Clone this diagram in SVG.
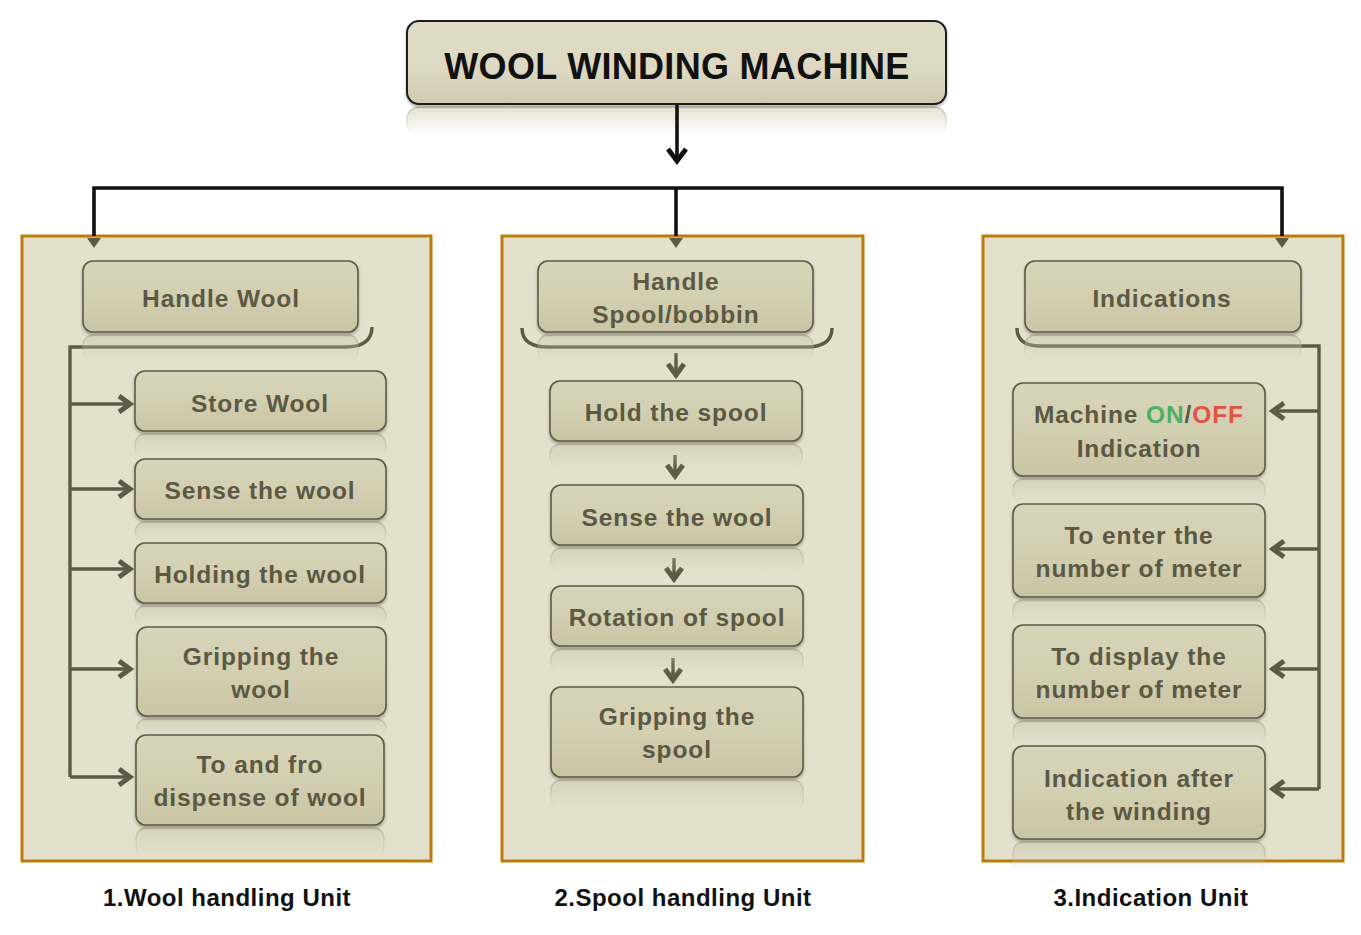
<svg xmlns="http://www.w3.org/2000/svg" width="1361" height="935" viewBox="0 0 1361 935">
<defs>
<style>
.panel{fill:#e3e0cc;stroke:#bb7c0c;stroke-width:3}
.node{fill:url(#ng);stroke:#5e5a47;stroke-width:1.6;filter:url(#sh)}
.title{fill:url(#tg);stroke:#1c1c1c;stroke-width:2;filter:url(#sh)}
.refl{fill:url(#rg);stroke:url(#rs);stroke-width:1.5}
.t{font-family:"Liberation Sans",Arial,sans-serif;font-weight:bold;font-size:24.5px;letter-spacing:0.9px;fill:#5b5843;text-anchor:middle}
.tt{font-family:"Liberation Sans",Arial,sans-serif;font-weight:bold;font-size:36px;letter-spacing:0.3px;fill:#111;text-anchor:middle}
.lab{font-family:"Liberation Sans",Arial,sans-serif;font-weight:bold;font-size:24px;letter-spacing:0.5px;fill:#111;text-anchor:middle}
.c{fill:none;stroke:#5e5a47;stroke-width:3.4}
.k{fill:none;stroke:#111;stroke-width:3.6}
</style>
<linearGradient id="ng" x1="0" y1="0" x2="0" y2="1">
<stop offset="0" stop-color="#d8d4b9"/><stop offset="0.5" stop-color="#d3cfb1"/><stop offset="1" stop-color="#c9c4a4"/>
</linearGradient>
<linearGradient id="tg" x1="0" y1="0" x2="0" y2="1">
<stop offset="0" stop-color="#e0dcc7"/><stop offset="0.6" stop-color="#dcd8c1"/><stop offset="1" stop-color="#cfcab0"/>
</linearGradient>
<linearGradient id="rg" x1="0" y1="0" x2="0" y2="1">
<stop offset="0" stop-color="#cdc9ad" stop-opacity="0.55"/><stop offset="1" stop-color="#cdc9ad" stop-opacity="0"/>
</linearGradient>
<linearGradient id="rs" x1="0" y1="0" x2="0" y2="1">
<stop offset="0" stop-color="#aaa58a" stop-opacity="0.6"/><stop offset="1" stop-color="#aaa58a" stop-opacity="0"/>
</linearGradient>
<filter id="sh" x="-5%" y="-10%" width="110%" height="130%">
<feDropShadow dx="0" dy="2" stdDeviation="1.5" flood-color="#000" flood-opacity="0.3"/>
</filter>
<marker id="ag" markerUnits="userSpaceOnUse" markerWidth="24" markerHeight="24" refX="15" refY="11" orient="auto" overflow="visible">
<path d="M4,3 L15,11 L4,19" fill="none" stroke="#5e5a47" stroke-width="5" stroke-linejoin="miter"/>
</marker>
<marker id="ak" markerUnits="userSpaceOnUse" markerWidth="26" markerHeight="26" refX="16" refY="12" orient="auto" overflow="visible">
<path d="M4,3 L16,12 L4,21" fill="none" stroke="#111" stroke-width="4.8"/>
</marker>
</defs>
<rect width="1361" height="935" fill="#ffffff"/>

<g id="title">
<rect class="refl" x="407" y="107" width="539" height="28" rx="12"/>
<rect class="title" x="407" y="21" width="539" height="83" rx="12"/>
<text class="tt" x="677" y="79">WOOL WINDING MACHINE</text>
</g>

<g id="panel1"><rect class="panel" x="22" y="236" width="409" height="625"/></g>
<g id="panel2"><rect class="panel" x="502" y="236" width="361" height="625"/></g>
<g id="panel3"><rect class="panel" x="983" y="236" width="360" height="625"/></g>

<g id="connectors">
<path class="k" d="M677,105 L677,161" marker-end="url(#ak)"/>
<path class="k" d="M94,236 L94,188 L1282,188 L1282,236"/>
<path class="k" d="M676,188 L676,236"/>
<path d="M87,238 L101,238 L94,248 Z" fill="#5e5a47"/>
<path d="M669,238 L683,238 L676,248 Z" fill="#5e5a47"/>
<path d="M1275,238 L1289,238 L1282,248 Z" fill="#5e5a47"/>
<path class="c" d="M372,327 Q372,347 345,347 L70,347 L70,777"/>
<path class="c" d="M70,404 L130,404" marker-end="url(#ag)"/>
<path class="c" d="M70,489 L130,489" marker-end="url(#ag)"/>
<path class="c" d="M70,569 L130,569" marker-end="url(#ag)"/>
<path class="c" d="M70,669 L130,669" marker-end="url(#ag)"/>
<path class="c" d="M70,777 L130,777" marker-end="url(#ag)"/>
<path class="c" d="M522,328 Q522,347 548,347 L806,347 Q832,347 832,328"/>
<path class="c" d="M676,353 L676,375" marker-end="url(#ag)"/>
<path class="c" d="M675,455 L675,476" marker-end="url(#ag)"/>
<path class="c" d="M674,558 L674,579" marker-end="url(#ag)"/>
<path class="c" d="M673,658 L673,680" marker-end="url(#ag)"/>
<path class="c" d="M1017,328 Q1017,346 1040,346 L1319,346 L1319,789"/>
<path class="c" d="M1319,411 L1273,411" marker-end="url(#ag)"/>
<path class="c" d="M1319,549 L1273,549" marker-end="url(#ag)"/>
<path class="c" d="M1319,669 L1273,669" marker-end="url(#ag)"/>
<path class="c" d="M1319,789 L1273,789" marker-end="url(#ag)"/>
</g>

<g id="handle-wool">
<rect class="refl" x="83" y="335" width="275" height="26" rx="10"/>
<rect class="node" x="83" y="261" width="275" height="71" rx="10"/>
<text class="t" x="221" y="307">Handle Wool</text>
</g>
<g id="store-wool">
<rect class="refl" x="135" y="434" width="251" height="24" rx="10"/>
<rect class="node" x="135" y="371" width="251" height="60" rx="10"/>
<text class="t" x="260" y="412">Store Wool</text>
</g>
<g id="sense-wool-1">
<rect class="refl" x="135" y="522" width="251" height="20" rx="10"/>
<rect class="node" x="135" y="459" width="251" height="60" rx="10"/>
<text class="t" x="260" y="499">Sense the wool</text>
</g>
<g id="holding-wool">
<rect class="refl" x="135" y="606" width="251" height="20" rx="10"/>
<rect class="node" x="135" y="543" width="251" height="60" rx="10"/>
<text class="t" x="260" y="583">Holding the wool</text>
</g>
<g id="gripping-wool">
<rect class="refl" x="137" y="719" width="249" height="16" rx="10"/>
<rect class="node" x="137" y="627" width="249" height="89" rx="10"/>
<text class="t" x="261" y="665">Gripping the<tspan x="261" y="698">wool</tspan></text>
</g>
<g id="to-fro">
<rect class="refl" x="136" y="828" width="248" height="30" rx="10"/>
<rect class="node" x="136" y="735" width="248" height="90" rx="10"/>
<text class="t" x="260" y="773">To and fro<tspan x="260" y="806">dispense of wool</tspan></text>
</g>

<g id="handle-spool">
<rect class="refl" x="538" y="335" width="275" height="26" rx="10"/>
<rect class="node" x="538" y="261" width="275" height="71" rx="10"/>
<text class="t" x="676" y="290">Handle<tspan x="676" y="323">Spool/bobbin</tspan></text>
</g>
<g id="hold-spool">
<rect class="refl" x="550" y="444" width="252" height="24" rx="10"/>
<rect class="node" x="550" y="381" width="252" height="60" rx="10"/>
<text class="t" x="676" y="421">Hold the spool</text>
</g>
<g id="sense-wool-2">
<rect class="refl" x="551" y="548" width="252" height="24" rx="10"/>
<rect class="node" x="551" y="485" width="252" height="60" rx="10"/>
<text class="t" x="677" y="526">Sense the wool</text>
</g>
<g id="rotation-spool">
<rect class="refl" x="551" y="649" width="252" height="24" rx="10"/>
<rect class="node" x="551" y="586" width="252" height="60" rx="10"/>
<text class="t" x="677" y="626">Rotation of spool</text>
</g>
<g id="gripping-spool">
<rect class="refl" x="551" y="780" width="252" height="30" rx="10"/>
<rect class="node" x="551" y="687" width="252" height="90" rx="10"/>
<text class="t" x="677" y="725">Gripping the<tspan x="677" y="758">spool</tspan></text>
</g>

<g id="indications">
<rect class="refl" x="1025" y="335" width="276" height="26" rx="10"/>
<rect class="node" x="1025" y="261" width="276" height="71" rx="10"/>
<text class="t" x="1162" y="307">Indications</text>
</g>
<g id="on-off">
<rect class="refl" x="1013" y="479" width="252" height="24" rx="10"/>
<rect class="node" x="1013" y="383" width="252" height="93" rx="10"/>
<text class="t" x="1139" y="423">Machine <tspan fill="#4fae62">ON</tspan>/<tspan fill="#e05444">OFF</tspan><tspan x="1139" y="457">Indication</tspan></text>
</g>
<g id="enter-meter">
<rect class="refl" x="1013" y="600" width="252" height="24" rx="10"/>
<rect class="node" x="1013" y="504" width="252" height="93" rx="10"/>
<text class="t" x="1139" y="544">To enter the<tspan x="1139" y="577">number of meter</tspan></text>
</g>
<g id="display-meter">
<rect class="refl" x="1013" y="721" width="252" height="24" rx="10"/>
<rect class="node" x="1013" y="625" width="252" height="93" rx="10"/>
<text class="t" x="1139" y="665">To display the<tspan x="1139" y="698">number of meter</tspan></text>
</g>
<g id="after-winding">
<rect class="refl" x="1013" y="842" width="252" height="30" rx="10"/>
<rect class="node" x="1013" y="746" width="252" height="93" rx="10"/>
<text class="t" x="1139" y="787">Indication after<tspan x="1139" y="820">the winding</tspan></text>
</g>

<g id="labels">
<text class="lab" x="227" y="906">1.Wool handling Unit</text>
<text class="lab" x="683" y="906">2.Spool handling Unit</text>
<text class="lab" x="1151" y="906">3.Indication Unit</text>
</g>
</svg>
